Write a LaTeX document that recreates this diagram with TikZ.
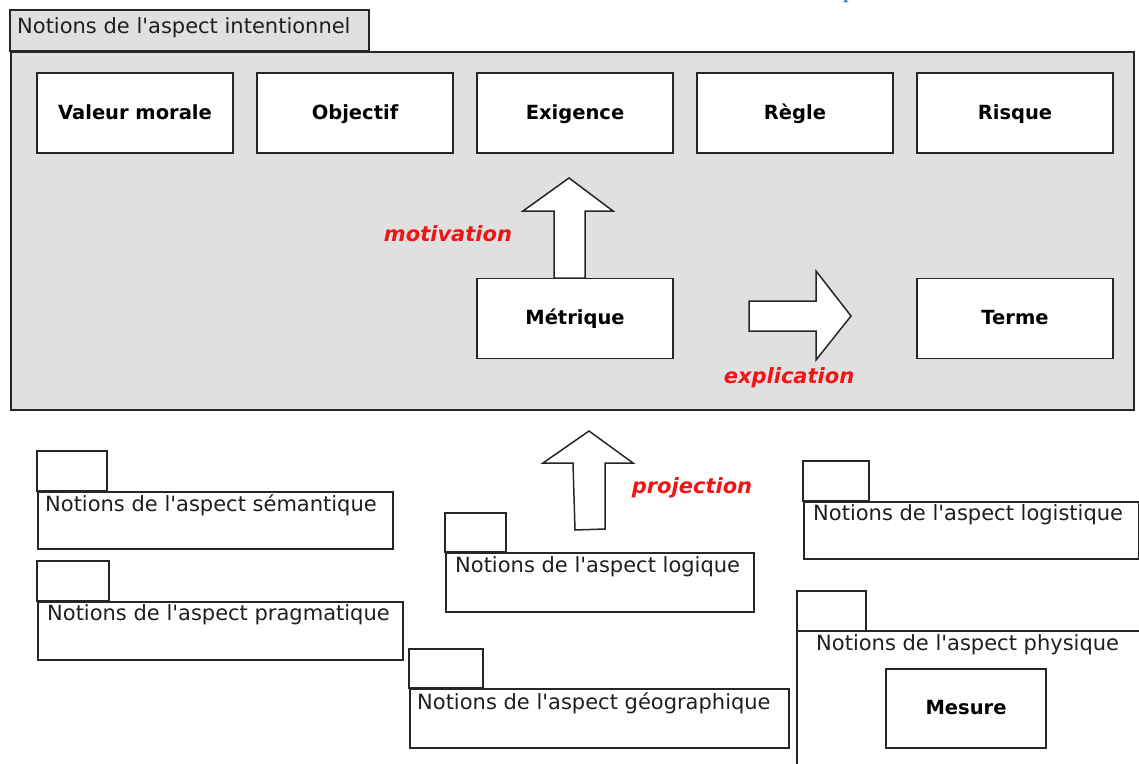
\documentclass[tikz,border=0pt]{standalone}
\usepackage{fontspec}
\setmainfont{DejaVu Sans}
\newfontfamily\serifb{Liberation Serif}
\definecolor{pkgfill}{HTML}{E0E0E0}
\definecolor{edgec}{HTML}{262626}
\definecolor{lblred}{HTML}{F21414}
\definecolor{topblue}{HTML}{4A7CC0}
\newcommand{\apo}{\textquotesingle}
\tikzset{
  pkg/.style={draw=edgec, line width=1.7pt, fill=pkgfill},
  spkg/.style={draw=edgec, line width=1.5pt, fill=white},
  concept/.style={draw=edgec, line width=1.5pt, fill=white, minimum width=196pt, minimum height=80pt, inner sep=0pt, text height=16.5pt, text depth=4pt, font=\fontsize{19.5}{23}\selectfont\bfseries},
  pkgtxt/.style={anchor=west, inner sep=0pt, text=black!88, font=\fontsize{21}{24}\selectfont},
  rellbl/.style={inner sep=0pt, text=lblred, font=\fontsize{21}{24}\selectfont\bfseries\itshape},
  blockarrow/.style={draw=edgec, line width=1.5pt, fill=white, line join=miter},
  body/.style={spkg, anchor=north west, inner sep=0pt}
}
\begin{document}
\begin{tikzpicture}[x=1pt,y=-1pt]
\useasboundingbox (0,0) rectangle (1139,763);
\fill[white] (0,0) rectangle (1139,763);

% clipped blue glyph at the top edge
\node[anchor=base west, inner sep=0pt, text=topblue, font=\serifb\bfseries\fontsize{20}{24}\selectfont] (topp) at (843,-1.3) {p};

% main package: intentionnel
\draw[pkg] (10,10) rectangle (369,51);
\node[pkg, anchor=north west, minimum width=1123pt, minimum height=358pt, inner sep=0pt] (intent) at (10,51) {};
\node[pkgtxt] (intentlbl) at (17,28) {Notions de l\apo aspect intentionnel};

% arrows (drawn before boxes)
\draw[blockarrow] (554,278) -- (554,211) -- (523,211) -- (569,178) -- (613,211) -- (585,211) -- (585,278) -- cycle;
\draw[blockarrow] (749,301) -- (816,301) -- (816,271) -- (851,316) -- (816,360) -- (816,331) -- (749,331) -- cycle;
\draw[blockarrow] (575,530) -- (573,463) -- (543,463) -- (589,431) -- (633,463) -- (605,463) -- (605,529) -- cycle;

% concepts
\node[concept] (valeur) at (135,113) {Valeur morale};
\node[concept] (objectif) at (355,113) {Objectif};
\node[concept] (exigence) at (575,113) {Exigence};
\node[concept] (regle) at (795,113) {Règle};
\node[concept] (risque) at (1015,113) {Risque};
\node[concept] (metrique) at (575,318.5) {Métrique};
\node[concept] (terme) at (1015,318.5) {Terme};

% relation labels
\node[rellbl] (motiv) at (448,234) {motivation};
\node[rellbl] (expl) at (789,378) {explication};
\node[rellbl] (proj) at (692,488) {projection};

% sémantique
\draw[spkg] (37,451) rectangle (107,491);
\node[body, minimum width=355pt, minimum height=57pt] (sem) at (37,491) {};
\node[pkgtxt] (semlbl) at (45,505) {Notions de l\apo aspect sémantique};

% pragmatique
\draw[spkg] (37,561) rectangle (109,601);
\node[body, minimum width=365pt, minimum height=58pt] (prag) at (37,601) {};
\node[pkgtxt] (praglbl) at (47,615) {Notions de l\apo aspect pragmatique};

% logique
\draw[spkg] (445,513) rectangle (506,552);
\node[body, minimum width=308pt, minimum height=59pt] (logi) at (445,552) {};
\node[pkgtxt] (logilbl) at (455,567) {Notions de l\apo aspect logique};

% géographique
\draw[spkg] (409,649) rectangle (483,688);
\node[body, minimum width=379pt, minimum height=59pt] (geo) at (409,688) {};
\node[pkgtxt] (geolbl) at (417,703) {Notions de l\apo aspect géographique};

% logistique
\draw[spkg] (803,461) rectangle (869,501);
\node[body, minimum width=335pt, minimum height=57pt] (logis) at (803,501) {};
\node[pkgtxt] (logislbl) at (813,515) {Notions de l\apo aspect logistique};

% physique (cut by the picture's edges)
\draw[spkg] (797,591) rectangle (866,631);
\draw[edgec, line width=1.5pt] (1145,631) -- (797,631) -- (797,770);
\node[pkgtxt] (phylbl) at (816,645) {Notions de l\apo aspect physique};
\node[concept, minimum width=160pt, minimum height=79pt] (mesure) at (966,708.5) {Mesure};
\end{tikzpicture}
\end{document}
